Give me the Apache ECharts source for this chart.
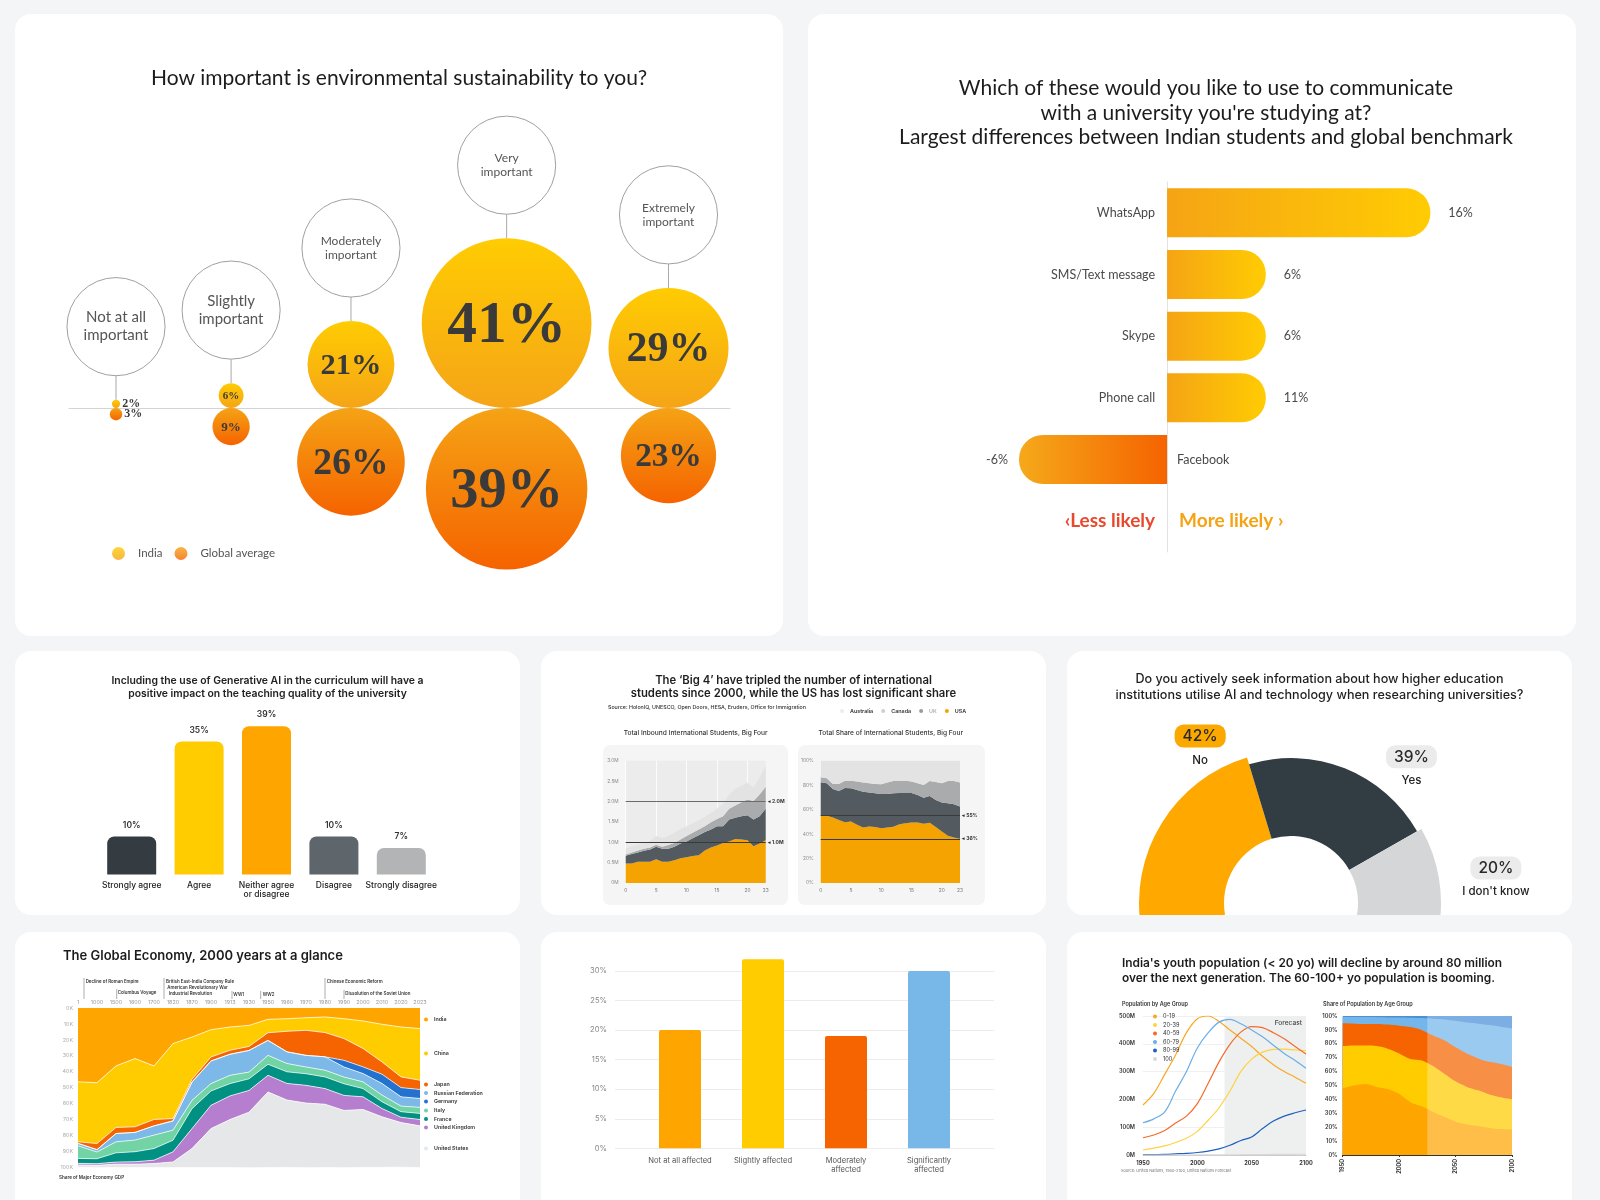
<!DOCTYPE html>
<html><head><meta charset="utf-8">
<script src="https://cdn.jsdelivr.net/npm/echarts@6/dist/echarts.min.js"></script>
<style>
html,body{margin:0;padding:0;background:#f4f5f7;width:1600px;height:1200px;overflow:hidden;}
.card{position:absolute;background:#fff;border-radius:16px;overflow:hidden;}
.card>div{width:100%;height:100%;}
</style></head><body>
<div class="card" style="left:15px;top:14px;width:768px;height:622px"><div id="c1"></div></div>
<div class="card" style="left:808px;top:14px;width:768px;height:622px"><div id="c2"></div></div>
<div class="card" style="left:15px;top:651px;width:505px;height:264px"><div id="c3"></div></div>
<div class="card" style="left:541px;top:651px;width:505px;height:264px"><div id="c4"></div></div>
<div class="card" style="left:1067px;top:651px;width:505px;height:264px"><div id="c5"></div></div>
<div class="card" style="left:15px;top:932px;width:505px;height:290px"><div id="c6"></div></div>
<div class="card" style="left:541px;top:932px;width:505px;height:290px"><div id="c7"></div></div>
<div class="card" style="left:1067px;top:932px;width:505px;height:290px"><div id="c8"></div></div>
<script>
// ---------------- DATA ----------------
// Chart 1: environmental sustainability
const c1Title = 'How important is environmental sustainability to you?';
const c1Categories = ['Not at all\nimportant','Slightly\nimportant','Moderately\nimportant','Very\nimportant','Extremely\nimportant'];
const c1India = [2, 6, 21, 41, 29];
const c1Global = [3, 9, 26, 39, 23];
const c1Series = ['India', 'Global average'];

// Chart 2: communication channels
const c2Title = "Which of these would you like to use to communicate\nwith a university you're studying at?\nLargest differences between Indian students and global benchmark";
const c2Categories = ['WhatsApp','SMS/Text message','Skype','Phone call','Facebook'];
const c2Values = [16, 6, 6, 6, -9];
const c2Labels = ['16%','6%','6%','11%','-6%'];
const c2Less = '‹Less likely';
const c2More = 'More likely ›';

// Chart 3: Generative AI
const c3Title = 'Including the use of Generative AI in the curriculum will have a\npositive impact on the teaching quality of the university';
const c3Categories = ['Strongly agree','Agree','Neither agree\nor disagree','Disagree','Strongly disagree'];
const c3Values = [10, 35, 39, 10, 7];

// Chart 4: Big 4
const c4Title = "The ‘Big 4’ have tripled the number of international\nstudents since 2000, while the US has lost significant share";
const c4Source = 'Source: HolonIQ, UNESCO, Open Doors, HESA, Eruders, Office for Immigration';
const c4Sub1 = 'Total Inbound International Students, Big Four';
const c4Sub2 = 'Total Share of International Students, Big Four';
const c4Years = ['0','1','2','3','4','5','6','7','8','9','10','11','12','13','14','15','16','17','18','19','20','21','22','23'];
const c4Countries = ['Australia','Canada','UK','USA'];
const c4USA = [0.48,0.48,0.52,0.52,0.52,0.58,0.52,0.52,0.56,0.61,0.63,0.66,0.68,0.80,0.87,0.92,0.98,1.02,1.08,1.07,1.05,0.90,0.97,1.05];
const c4UK = [0.19,0.23,0.23,0.27,0.30,0.31,0.32,0.32,0.33,0.36,0.39,0.44,0.49,0.45,0.44,0.47,0.41,0.54,0.52,0.57,0.61,0.66,0.67,0.77];
const c4Canada = [0.03,0.04,0.05,0.05,0.05,0.05,0.05,0.09,0.09,0.10,0.13,0.13,0.14,0.14,0.18,0.18,0.25,0.26,0.30,0.34,0.39,0.45,0.53,0.54];
const c4Australia = [0.14,0.15,0.14,0.14,0.16,0.21,0.21,0.22,0.25,0.26,0.24,0.23,0.23,0.23,0.23,0.25,0.31,0.35,0.41,0.41,0.41,0.33,0.41,0.51];
const c4USAShare = [55,55,53.5,51.6,49.7,50.3,47.6,45.4,46.2,45.7,44.8,45.4,45.9,48.1,48.9,49.5,49.5,48.4,49.2,45.7,42.1,38.6,37.2,36.1];
const c4UKShare = [27.3,26.5,23.4,23.7,28.0,27.1,28.5,29.3,27.7,27.7,28.0,27.4,27.5,25.5,24.7,24.1,22.5,21.4,22.0,22.2,23.7,26.6,27.2,26.4];
const c4CanadaShare = [4.1,4.1,4.1,5.7,6.0,6.3,6.8,7.4,7.6,7.6,7.9,9.3,10.0,10.1,10.1,9.3,9.5,10.4,12.2,14.7,15.7,18.2,19.0,19.6];
const c4AustraliaShare = [13.6,14.4,19.0,19.0,16.3,16.3,17.1,17.9,18.5,19.0,19.3,17.9,16.6,16.3,16.3,17.1,18.5,19.8,16.6,17.4,18.5,16.6,16.6,17.9];
const c4RefLines = [2.0, 1.0];
const c4RefShares = [55, 36];

// Chart 5: donut
const c5Title = 'Do you actively seek information about how higher education\ninstitutions utilise AI and technology when researching universities?';
const c5Categories = ['No','Yes',"I don't know"];
const c5Values = [42, 39, 20];

// Chart 6: global economy
const c6Title = 'The Global Economy, 2000 years at a glance';
const c6Years = ['1','1000','1500','1600','1700','1820','1870','1900','1913','1930','1950','1960','1970','1980','1990','2000','2010','2020','2023'];
const c6Names = ['India','China','Japan','Germany','Russian Federation','Italy','France','United Kingdom','United States'];
const c6India = [46.3,46.8,36.3,31.7,36.3,22.3,18.2,13.6,11.9,10.9,7.1,6.7,6.1,5.6,6.7,8.1,10.2,11.9,12.9];
const c6China = [37.6,38.2,38.6,42.8,33.6,47.0,26.5,17.1,14.6,13.2,8.4,7.9,7.9,9.8,12.5,17.3,23.6,31.3,32.4];
const c6Japan = [1.0,3.8,3.8,3.5,4.0,1.5,1.7,2.5,2.5,2.5,4.8,12.9,15.7,15.2,13.6,11.5,7.7,6.7,5.8];
const c6Germany = [0,0,0,0,0,0,0,0,0,0,0,0,0,0,4.2,4.2,5.8,5.8,5.6];
const c6Russia = [1.5,1.5,5.2,4.8,5.8,5.8,11.5,14.2,13.2,13.6,9.4,7.3,7.3,8.4,6.3,5.2,7.3,5.8,5.6];
const c6Italy = [7.9,4.2,6.9,7.3,8.4,6.3,5.2,4.6,5.2,4.2,5.6,5.2,4.2,4.2,4.2,4.2,4.2,3.5,3.8];
const c6France = [3.1,3.1,5.8,6.3,7.3,7.3,12.5,9.0,7.7,7.3,6.9,7.3,7.3,7.3,7.3,5.2,4.2,3.5,3.8];
const c6UK = [1.0,1.0,1.3,1.5,2.1,6.3,12.5,14.6,14.8,13.6,10.4,10.4,11.1,9.8,9.4,7.9,5.2,3.3,4.0];
const c6US = [1.5,1.5,2.1,2.1,2.5,3.5,11.9,24.4,30.1,34.9,47.4,42.2,40.5,39.7,35.9,36.3,31.7,28.0,26.1];
const c6LegendOrder = ['India','China','Japan','Russian Federation','Germany','Italy','France','United Kingdom','United States'];
const c6Events = ['Decline of Roman Empire','Columbus Voyage','British East-India Company Rule','American Revolutionary War','Industrial Revolution','WW1','WW2','Chinese Economic Reform','Dissolution of the Soviet Union'];
const c6Note = 'Share of Major Economy GDP';

// Chart 7: affected
const c7Categories = ['Not at all affected','Slightly affected','Moderately\naffected','Significantly\naffected'];
const c7Values = [20, 32, 19, 30];

// Chart 8: India population
const c8Title = "India's youth population (< 20 yo) will decline by around 80 million\nover the next generation. The 60-100+ yo population is booming.";
const c8Sub1 = 'Population by Age Group';
const c8Sub2 = 'Share of Population by Age Group';
const c8Note = 'Source: United Nations, 1950-2100, United Nations Forecast';
const c8Years = [1950,1960,1970,1980,1990,2000,2010,2020,2030,2040,2050,2060,2070,2080,2090,2100];
const c8Groups = ['0-19','20-39','40-59','60-79','80-99','100'];
const c8Pop0 = [180,222,290,360,440,490,500,480,450,420,390,355,325,300,280,258];
const c8Pop1 = [18,25,33,45,60,85,125,170,230,300,345,370,380,381,378,375];
const c8Pop2 = [62,72,88,115,140,185,258,335,398,442,462,458,440,418,390,363];
const c8Pop3 = [116,130,155,230,300,385,440,478,488,472,450,425,395,365,340,312];
const c8Pop4 = [1,1.5,2,4,6,9,14,22,35,52,65,95,122,140,152,162];
const c8Pop5 = [0,0,0,0,0,0.2,0.3,0.5,0.8,1,1.3,1.6,2,2.3,2.6,3];
const c8Share0 = [48,50,51,49,47.5,44,38,35,31,27.5,24,22,20.8,19.5,18.7,18.5];
const c8Share1 = [30.4,28.8,27.8,29.4,29,29,31,33,33,31,29,27,25.7,24,22.8,21.5];
const c8Share2 = [16.3,15.7,15.5,15.8,17.3,20,23,22,22,24,24.5,24,23,23.5,24,23.5];
const c8Share3 = [4.5,4.7,4.9,4.9,5.2,6,6.8,8.5,12,15,19,22.3,25,26.5,26.8,27.5];
const c8Share4 = [0.8,0.8,0.8,0.9,1,1,1.2,1.5,2,2.5,3.5,4.7,5.5,6.5,7.7,9];
const c8ForecastStart = 2025;

// ---------------- HELPERS ----------------
const FT = 'Lato, "Open Sans", sans-serif';
const FS = 'Inter, "Noto Sans", sans-serif';
const SERIF = '"Liberation Serif", "DejaVu Serif", serif';
function mk(id){ return echarts.init(document.getElementById(id)); }
const LG = (c0, c1, h) => new echarts.graphic.LinearGradient(0, 0, h ? 1 : 0, h ? 0 : 1, [{offset:0,color:c0},{offset:1,color:c1}]);

// ---------------- CHART 1 ----------------
(function(){
  const ch = mk('c1');
  const K = 2.07, BASE = 394, H = 622;
  const LABEL_R = 23.7, GAP = 8.2, START = 48.8;
  const R = c1India.map((v,i) => Math.max(v, c1Global[i], LABEL_R));
  const xs = [];
  R.forEach((r,i) => xs.push(i === 0 ? START : xs[i-1] + R[i-1] + r + GAP));
  const labelFont = [15, 15, 12, 12, 12];
  const gI = () => LG('#FFCC02', '#F5A417');
  const gG = () => LG('#F5A315', '#F56300');
  const gl = 54, gw = 661;
  ch.setOption({
    title: {text: c1Title, left: 'center', top: 49, textStyle: {fontFamily: FT, fontSize: 21, fontWeight: 'normal', color: '#1c1c1c'}},
    grid: {left: gl, width: gw, top: 0, bottom: 0, outerBoundsMode: 'none'},
    xAxis: {type: 'value', min: gl / K, max: (gl + gw) / K, axisLine: {show: true, onZero: true, lineStyle: {color: '#d4d4d4'}}, axisTick: {show: false}, axisLabel: {show: false}, splitLine: {show: false}},
    yAxis: {type: 'value', min: -(H - BASE) / K, max: BASE / K, show: false},
    legend: {data: c1Series, left: 92, top: 528, icon: 'circle', itemWidth: 13, itemHeight: 13, itemGap: 12,
      textStyle: {fontFamily: FT, fontSize: 11.5, color: '#555', padding: [0,0,0,8]}},
    series: [
      {type: 'custom', silent: true, clip: false,
       data: c1India.map((v,i) => [xs[i], v, c1Global[i], i]),
       renderItem: (params, api) => {
         const i = api.value(3), x = api.value(0), vi = api.value(1), vg = api.value(2);
         const pI = api.coord([x, vi]), rI = api.size([0, vi])[1];
         const pG = api.coord([x, -vg]), rG = api.size([0, vg])[1];
         const l0 = api.coord([x, 2 * vi]), l1 = api.coord([x, 2 * vi + 11.6]);
         const pL = api.coord([x, 2 * vi + 35.3]), rL = api.size([0, LABEL_R])[1];
         const children = [
           {type: 'line', shape: {x1: l0[0], y1: l0[1], x2: l1[0], y2: l1[1]}, style: {stroke: '#a8a8a8', lineWidth: 1}},
           {type: 'circle', shape: {cx: pL[0], cy: pL[1], r: rL}, style: {fill: '#fff', stroke: '#a0a0a0', lineWidth: 1}},
           {type: 'text', style: {text: c1Categories[i], x: pL[0], y: pL[1], align: 'center', verticalAlign: 'middle', fill: '#555', fontFamily: FT, fontSize: labelFont[i], lineHeight: labelFont[i] * 1.2}},
           {type: 'circle', shape: {cx: pI[0], cy: pI[1], r: rI}, style: {fill: gI()}},
           {type: 'circle', shape: {cx: pG[0], cy: pG[1], r: rG}, style: {fill: gG()}}
         ];
         [[pI, rI, vi], [pG, rG, vg]].forEach(([p, r, v]) => {
           if (r < 9) {
             children.push({type: 'text', style: {text: v + '%', x: p[0] + r + 2, y: p[1], align: 'left', verticalAlign: 'middle', fill: '#3a3a3a', fontFamily: SERIF, fontWeight: 'bold', fontSize: 12}});
           } else {
             children.push({type: 'text', style: {text: v + '%', x: p[0], y: p[1] + r * 0.04, align: 'center', verticalAlign: 'middle', fill: '#3a3a3a', fontFamily: SERIF, fontWeight: 'bold', fontSize: Math.max(11, r * 0.7)}});
           }
         });
         return {type: 'group', children};
       }},
      {type: 'scatter', name: c1Series[0], data: [], itemStyle: {color: gI()}},
      {type: 'scatter', name: c1Series[1], data: [], itemStyle: {color: gG()}}
    ]
  });
})();

// ---------------- CHART 2 ----------------
(function(){
  const ch = mk('c2');
  const pos = () => LG('#F5A414', '#FFCC03', true);
  const neg = () => LG('#F5A91A', '#F56300', true);
  const lab = {fontFamily: FT, fontSize: 12.5, color: '#4a4a4a'};
  const main = c2Values.map((v,i) => ({value: v,
    itemStyle: {color: v >= 0 ? pos() : neg(), borderRadius: v >= 0 ? [0,24,24,0] : [24,0,0,24]},
    label: Object.assign({show: true, position: v >= 0 ? 'right' : 'left', distance: v >= 0 ? 18 : 11, formatter: c2Labels[i]}, lab)}));
  main.push({value: 0, itemStyle: {color: 'transparent'}, label: {show: true, position: 'right', distance: 12, formatter: c2More, fontFamily: FT, fontSize: 19, fontWeight: 'bold', color: '#F5A313'}});
  const names = c2Values.map((v,i) => ({value: v,
    label: Object.assign({show: true, position: v >= 0 ? 'left' : 'right', distance: v >= 0 ? 12 : 10, formatter: c2Categories[i]}, lab)}));
  names.push({value: 0, label: {show: true, position: 'left', distance: 12, formatter: c2Less, fontFamily: FT, fontSize: 19, fontWeight: 'bold', color: '#E8492C'}});
  ch.setOption({
    graphic: [{type: 'text', x: 398, y: 62, silent: true,
      style: {text: c2Title, align: 'center', verticalAlign: 'top', fontFamily: FT, fontSize: 21, fontWeight: 'normal', fill: '#1c1c1c', lineHeight: 24.5}}],
    grid: {left: 30, width: 724, top: 168, height: 370, outerBoundsMode: 'none'},
    xAxis: {type: 'value', min: -20, max: 24, show: false},
    yAxis: {type: 'category', inverse: true, data: c2Categories.concat(['']),
      axisLine: {show: true, onZero: true, lineStyle: {color: '#e2e2e2'}}, axisTick: {show: false}, axisLabel: {show: false}},
    series: [
      {type: 'bar', barWidth: 49, silent: true, data: main},
      {type: 'bar', barWidth: 49, barGap: '-100%', silent: true, itemStyle: {color: 'transparent'}, data: names}
    ]
  });
})();

// ---------------- CHART 3 ----------------
(function(){
  const ch = mk('c3');
  const colors = ['#343C42','#FFCC00','#FFA500','#5E656B','#B2B4B6'];
  ch.setOption({
    title: {text: c3Title, left: 'center', top: 19, textStyle: {fontFamily: FS, fontSize: 10.4, fontWeight: 600, color: '#222', lineHeight: 12.3}},
    grid: {left: 83, width: 337, top: 52.5, height: 171, outerBoundsMode: 'none'},
    xAxis: {type: 'category', data: c3Categories, axisLine: {show: false}, axisTick: {show: false},
      axisLabel: {interval: 0, margin: 6, fontFamily: FS, fontSize: 8.5, fontWeight: 500, color: '#222', lineHeight: 9.5}},
    yAxis: {type: 'value', min: 0, max: 45, show: false},
    series: [{type: 'bar', barWidth: 49, silent: true,
      data: c3Values.map((v,i) => ({value: v, itemStyle: {color: colors[i], borderRadius: [7,7,0,0]}})),
      label: {show: true, position: 'top', distance: 7, formatter: '{c}%', fontFamily: FS, fontSize: 8.5, fontWeight: 600, color: '#333'}}]
  });
})();

// ---------------- CHART 4 ----------------
(function(){
  const ch = mk('c4');
  const cols = {Australia: '#E3E3E3', Canada: '#A9ABAD', UK: '#535B60', USA: '#F5A300'};
  const counts = {USA: c4USA, UK: c4UK, Canada: c4Canada, Australia: c4Australia};
  const shares = {USA: c4USAShare, UK: c4UKShare, Canada: c4CanadaShare, Australia: c4AustraliaShare};
  const order = ['USA','UK','Canada','Australia'];
  const tickShow = (i) => i % 5 === 0 || i === c4Years.length - 1;
  const xAx = (g) => ({type: 'category', gridIndex: g, data: c4Years, boundaryGap: false,
    axisLine: {show: false}, axisTick: {show: false},
    axisLabel: {interval: (i) => tickShow(i), fontFamily: FS, fontSize: 4.8, color: '#777', margin: 5},
    splitLine: {show: true, interval: (i) => i % 5 === 0, lineStyle: {color: '#ffffff', width: 0.8}}});
  const yLab = {fontFamily: FS, fontSize: 4.8, color: '#888', margin: 7};
  const mkLine = (vals, fmt, cols2) => ({symbol: 'none', silent: true,
    label: {position: 'end', formatter: (p) => '◂ ' + fmt(p.value), fontFamily: FS, fontSize: 5, fontWeight: 700, color: '#333', distance: 2},
    data: vals.map((v,i) => ({yAxis: v, lineStyle: {color: cols2[i], width: 1, type: 'solid'}}))});
  const series = [];
  order.forEach((n, k) => {
    const s1 = {type: 'line', name: n, xAxisIndex: 0, yAxisIndex: 0, stack: 'a', data: counts[n], symbol: 'none', silent: true,
      lineStyle: {width: 0}, areaStyle: {color: cols[n], opacity: 1}, itemStyle: {color: cols[n]}};
    const s2 = {type: 'line', name: n, xAxisIndex: 1, yAxisIndex: 1, stack: 'b', data: shares[n], symbol: 'none', silent: true,
      lineStyle: {width: 0}, areaStyle: {color: cols[n], opacity: 1}, itemStyle: {color: cols[n]}};
    if (k === order.length - 1) {
      s1.markLine = mkLine(c4RefLines, (v) => v.toFixed(1) + 'M', ['#6b6b6b', '#3a3a3a']);
      s2.markLine = mkLine(c4RefShares, (v) => v + '%', ['#3a3a3a', '#3a3a3a']);
    }
    series.push(s1, s2);
  });
  ch.setOption({
    title: {text: c4Title, left: 'center', top: 19, textStyle: {fontFamily: FS, fontSize: 11.3, fontWeight: 600, color: '#1f1f1f', lineHeight: 12.2}},
    legend: {data: [
        {name: 'Australia', itemStyle: {color: '#ececec'}},
        {name: 'Canada', itemStyle: {color: '#cfcfcf'}},
        {name: 'UK', itemStyle: {color: '#9a9a9a'}, textStyle: {color: '#b0b0b0'}},
        {name: 'USA', itemStyle: {color: '#F5A300'}}],
      left: 294, top: 52.5, icon: 'circle', itemWidth: 4, itemHeight: 4, itemGap: 8,
      textStyle: {fontFamily: FS, fontSize: 5.4, fontWeight: 600, color: '#333', padding: [0,0,0,1]}},
    graphic: [
      {type: 'rect', shape: {x: 62, y: 94, width: 185, height: 160, r: 7}, style: {fill: '#f5f5f5'}, z: -5, silent: true},
      {type: 'rect', shape: {x: 257, y: 94, width: 187, height: 160, r: 7}, style: {fill: '#f5f5f5'}, z: -5, silent: true},
      {type: 'text', x: 67, y: 56, style: {text: c4Source, fontFamily: FS, fontSize: 5.3, fontWeight: 500, fill: '#333', verticalAlign: 'middle'}, silent: true},
      {type: 'text', x: 154.7, y: 81.7, style: {text: c4Sub1, fontFamily: FS, fontSize: 6.6, fontWeight: 500, fill: '#333', align: 'center', verticalAlign: 'middle'}, silent: true},
      {type: 'text', x: 349.7, y: 81.7, style: {text: c4Sub2, fontFamily: FS, fontSize: 6.6, fontWeight: 500, fill: '#333', align: 'center', verticalAlign: 'middle'}, silent: true}
    ],
    grid: [
      {left: 84.7, width: 140, top: 109.7, height: 122.3, show: true, backgroundColor: '#ececec', borderWidth: 0, outerBoundsMode: 'none'},
      {left: 279.7, width: 139.3, top: 109.7, height: 122.3, show: true, backgroundColor: '#ececec', borderWidth: 0, outerBoundsMode: 'none'}
    ],
    xAxis: [xAx(0), xAx(1)],
    yAxis: [
      {type: 'value', gridIndex: 0, min: 0, max: 3, interval: 0.5, splitLine: {show: false}, axisLine: {show: false},
        axisLabel: Object.assign({formatter: (v) => v === 0 ? '0M' : v.toFixed(1) + 'M'}, yLab)},
      {type: 'value', gridIndex: 1, min: 0, max: 100, interval: 20, splitLine: {show: false}, axisLine: {show: false},
        axisLabel: Object.assign({formatter: '{value}%'}, yLab)}
    ],
    series
  });
})();

// ---------------- CHART 5 ----------------
(function(){
  const ch = mk('c5');
  const colors = ['#FFA800','#323C43','#D4D6D7'];
  const badge = ['#FBA900','#EBEBEB','#EBEBEB'];
  const radius = [[67,152],[67,145],[67,150]];
  const offsets = [[5,-101],[80,-38],[95,-9]];
  ch.setOption({
    title: {text: c5Title, left: 'center', top: 21, padding: [0,10,0,0], textStyle: {fontFamily: FS, fontSize: 12.6, fontWeight: 500, color: '#1f1f1f', lineHeight: 15.3}},
    series: c5Categories.map((name, k) => ({
      type: 'pie', center: [224, 252], radius: radius[k], startAngle: 190, endAngle: -10, silent: true,
      avoidLabelOverlap: false, labelLine: {show: false}, emptyCircleStyle: {opacity: 0},
      data: c5Values.map((v, i) => ({name: c5Categories[i], value: v,
        itemStyle: {color: i === k ? colors[i] : 'rgba(0,0,0,0)', borderWidth: 0},
        label: {show: i === k, position: 'inside', offset: offsets[i],
          formatter: '{v|' + v + '%}\n{n|' + c5Categories[i] + '}',
          rich: {
            v: {backgroundColor: badge[i], borderRadius: 9, padding: [4,8,3,8], fontFamily: FS, fontSize: 15.5, fontWeight: 500, color: '#2a2a2a', lineHeight: 19},
            n: {fontFamily: FS, fontSize: 11.5, fontWeight: 500, color: '#222', lineHeight: 14, padding: [15,0,0,0]}
          }}}))
    }))
  });
})();

// ---------------- CHART 6 ----------------
(function(){
  const ch = mk('c6');
  const cols = ['#FFA500','#FFCC00','#F56400','#2472D0','#7DB9E8','#72D3A5','#009183','#B57ECF','#E6E7E9'];
  const data = [c6India, c6China, c6Japan, c6Germany, c6Russia, c6Italy, c6France, c6UK, c6US];
  const series = c6Names.map((n, i) => ({type: 'line', name: n, stack: 'g', data: data[i], symbol: 'none', silent: true,
    lineStyle: {width: 0.7, color: '#ffffff'}, areaStyle: {color: cols[i], opacity: 1}, itemStyle: {color: cols[i]}}));
  const legendTops = [85, 119, 150, 158.5, 167, 176, 184.5, 193, 214];
  const legends = c6LegendOrder.map((n, i) => ({data: [n], left: 409, top: legendTops[i], icon: 'circle', itemWidth: 4, itemHeight: 4,
    padding: 0, textStyle: {fontFamily: FS, fontSize: 5.3, fontWeight: 600, color: '#333', padding: [0,0,0,1]}}));
  const ev = [[69,70.7,49.7,46],[101.7,102.7,60.3,57],[149,151,49.7,46],[null,152.3,56,0],[null,153.7,62,0],[217,218.3,63,59],[245.7,247.7,63,59],[310,311.7,49.7,46],[329,330.3,62,58]];
  const graphic = [];
  ev.forEach((e, i) => {
    if (e[0] !== null) graphic.push({type: 'line', shape: {x1: e[0], y1: e[3], x2: e[0], y2: 67}, style: {stroke: '#777', lineWidth: 0.6}, silent: true});
    graphic.push({type: 'text', x: e[1], y: e[2], style: {text: c6Events[i], fontFamily: FS, fontSize: 4.4, fontWeight: 600, fill: '#333', verticalAlign: 'middle'}, silent: true});
  });
  graphic.push({type: 'text', x: 44, y: 245.5, style: {text: c6Note, fontFamily: FS, fontSize: 4.6, fontWeight: 600, fill: '#333', verticalAlign: 'middle'}, silent: true});
  ch.setOption({
    title: {text: c6Title, left: 43, top: 13, textStyle: {fontFamily: FS, fontSize: 13, fontWeight: 600, color: '#1c1c1c'}},
    legend: legends,
    graphic,
    grid: {left: 63, width: 342, top: 76, height: 159.5, outerBoundsMode: 'none'},
    xAxis: {type: 'category', position: 'top', data: c6Years, boundaryGap: false, axisLine: {show: false}, axisTick: {show: false},
      axisLabel: {interval: 0, fontFamily: FS, fontSize: 5.4, color: '#999', margin: 3}, splitLine: {show: false}},
    yAxis: {type: 'value', inverse: true, min: 0, max: 100, interval: 10, axisLine: {show: false}, splitLine: {show: false},
      axisLabel: {formatter: '{value}K', fontFamily: FS, fontSize: 5.4, color: '#aaa', margin: 5}},
    series
  });
})();

// ---------------- CHART 7 ----------------
(function(){
  const ch = mk('c7');
  const colors = ['#FFA500','#FFCC00','#F56400','#78B8E9'];
  ch.setOption({
    grid: [
      {left: 74, width: 379, top: 39, height: 177.3, outerBoundsMode: 'none'},
      {left: 97.5, width: 332, top: 39, height: 177.3, outerBoundsMode: 'none'}
    ],
    xAxis: [
      {type: 'value', gridIndex: 0, show: false, min: 0, max: 1},
      {type: 'category', gridIndex: 1, data: c7Categories, axisLine: {show: false}, axisTick: {show: false},
        axisLabel: {interval: 0, margin: 8, fontFamily: FS, fontSize: 7.6, color: '#555', lineHeight: 9}}
    ],
    yAxis: [
      {type: 'value', gridIndex: 0, min: 0, max: 30, interval: 5, axisLine: {show: false}, axisTick: {show: false},
        splitLine: {lineStyle: {color: '#ececec'}}, axisLabel: {formatter: '{value}%', fontFamily: FS, fontSize: 7.6, color: '#888', margin: 8}},
      {type: 'value', gridIndex: 1, min: 0, max: 30, show: false}
    ],
    series: [{type: 'bar', xAxisIndex: 1, yAxisIndex: 1, barWidth: 42, clip: false, silent: true,
      data: c7Values.map((v, i) => ({value: v, itemStyle: {color: colors[i], borderRadius: [2,2,0,0]}}))}]
  });
})();

// ---------------- CHART 8 ----------------
(function(){
  const ch = mk('c8');
  const lineCols = ['#F9A825','#FFD23F','#F56B2A','#6AAEE8','#1F5FBF','#D9D9D9'];
  const pops = [c8Pop0, c8Pop1, c8Pop2, c8Pop3, c8Pop4, c8Pop5];
  const shareCols = ['#FFA500','#FFCC00','#F56400','#75B6EA','#4A8FD8'];
  const shares = [c8Share0, c8Share1, c8Share2, c8Share3, c8Share4];
  const pair = (arr) => arr.map((v, i) => [c8Years[i], v]);
  // cumulative share boundaries, derived from the layer values
  const cum = [];
  shares.forEach((arr, k) => cum.push(arr.map((v, i) => (k ? cum[k-1][i] : 0) + v)));
  const series = [];
  c8Groups.forEach((g, i) => {
    series.push({type: 'line', name: g, xAxisIndex: 0, yAxisIndex: 0, data: pair(pops[i]), smooth: 0.35, symbol: 'none', silent: true,
      lineStyle: {width: 1.2, color: lineCols[i]}, itemStyle: {color: lineCols[i]}, z: 3,
      markArea: i === 0 ? {silent: true, itemStyle: {color: '#eef0ef'},
        label: {show: true, position: 'insideTopRight', formatter: 'Forecast', fontFamily: FS, fontSize: 6.6, fontWeight: 500, color: '#444', distance: 4},
        data: [[{xAxis: c8ForecastStart}, {xAxis: 2100}]]} : undefined});
  });
  // draw cumulative areas from the top layer down so each lower layer covers the one above
  for (let k = shares.length - 1; k >= 0; k--) {
    series.push({type: 'line', name: c8Groups[k] + ' share', xAxisIndex: 1, yAxisIndex: 1, data: pair(cum[k].map(v => Math.min(v, 100))),
      smooth: 0.3, symbol: 'none', silent: true, z: 2,
      lineStyle: {width: 0}, areaStyle: {color: shareCols[k], opacity: 1, origin: 'start'}, itemStyle: {color: shareCols[k]}});
  }
  series.push({type: 'line', name: 'forecast overlay', xAxisIndex: 1, yAxisIndex: 1, data: pair(cum[0]), symbol: 'none', silent: true, z: 5,
    lineStyle: {width: 0, opacity: 0},
    markArea: {silent: true, z: 8, itemStyle: {color: 'rgba(255,255,255,0.28)'},
      label: {show: true, position: 'insideTopLeft', formatter: 'Forecast', fontFamily: FS, fontSize: 6.6, fontWeight: 500, color: '#ffffff', distance: [8, 3]},
      data: [[{xAxis: c8ForecastStart}, {xAxis: 2100}]]}});
  const axLab = {fontFamily: FS, fontSize: 5.6, color: '#333'};
  ch.setOption({
    title: {text: c8Title, left: 50, top: 19, textStyle: {fontFamily: FS, fontSize: 11.9, fontWeight: 600, color: '#1c1c1c', lineHeight: 14.7}},
    legend: {data: c8Groups, orient: 'vertical', left: 86, top: 81, icon: 'circle', itemWidth: 4, itemHeight: 4, itemGap: 1.5, padding: 0,
      textStyle: {fontFamily: FS, fontSize: 5.6, color: '#333', lineHeight: 7, padding: [0,0,0,1]}},
    graphic: [
      {type: 'text', x: 55, y: 72, style: {text: c8Sub1, fontFamily: FS, fontSize: 5.5, fontWeight: 600, fill: '#333', verticalAlign: 'middle'}, silent: true},
      {type: 'text', x: 256, y: 72, style: {text: c8Sub2, fontFamily: FS, fontSize: 5.5, fontWeight: 600, fill: '#333', verticalAlign: 'middle'}, silent: true},
      {type: 'text', x: 54, y: 239, style: {text: c8Note, fontFamily: FS, fontSize: 3.9, fill: '#777', verticalAlign: 'middle'}, silent: true}
    ],
    grid: [
      {left: 76, width: 163, top: 84, height: 139, outerBoundsMode: 'none'},
      {left: 275.7, width: 169.3, top: 84, height: 139, outerBoundsMode: 'none'}
    ],
    xAxis: [
      {type: 'value', gridIndex: 0, min: 1950, max: 2100, interval: 50, axisLine: {show: true, lineStyle: {color: '#cccccc'}}, axisTick: {show: false}, splitLine: {show: false},
        axisLabel: Object.assign({fontWeight: 700, margin: 5, formatter: (v) => String(v)}, axLab)},
      {type: 'value', gridIndex: 1, min: 1950, max: 2100, interval: 50, axisLine: {show: true, lineStyle: {color: '#333'}}, axisTick: {show: true, length: 2}, splitLine: {show: false},
        axisLabel: Object.assign({fontWeight: 700, rotate: 90, margin: 4, formatter: (v) => String(v)}, axLab)}
    ],
    yAxis: [
      {type: 'value', gridIndex: 0, min: 0, max: 500, interval: 100, axisLine: {show: false}, axisTick: {show: false},
        splitLine: {lineStyle: {color: '#f0f0f0'}}, axisLabel: Object.assign({formatter: '{value}M', fontWeight: 600, margin: 8}, axLab)},
      {type: 'value', gridIndex: 1, min: 0, max: 100, interval: 10, axisLine: {show: false}, axisTick: {show: false},
        splitLine: {show: false}, axisLabel: Object.assign({formatter: '{value}%', fontWeight: 600, margin: 5}, axLab)}
    ],
    series
  });
})();
</script>
</body></html>
